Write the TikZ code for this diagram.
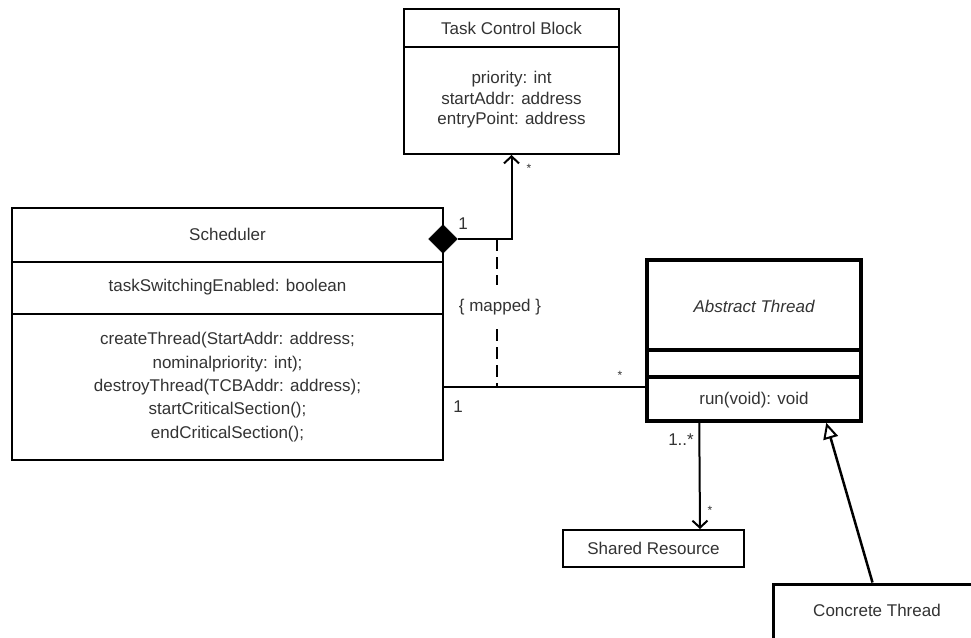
\documentclass[tikz,border=0pt]{standalone}
\usepackage{fontspec}
\setmainfont{Liberation Sans}
\usetikzlibrary{arrows.meta,shapes.geometric,calc}
\definecolor{tc}{HTML}{333333}
\begin{document}
\begin{tikzpicture}[x=1pt,y=-1pt,
  txt/.style={text=tc, inner sep=0pt, font=\fontsize{17}{20}\selectfont},
  smalltxt/.style={text=tc, inner sep=0pt, font=\fontsize{12}{14}\selectfont},
  box/.style={draw, line width=2pt, inner sep=0pt},
  thickbox/.style={draw, line width=3.5pt, inner sep=0pt},
  conn/.style={line width=2pt},
  openarrow/.style={conn, -{Straight Barb[length=7pt,width=15pt,line width=2pt]}},
  genarrow/.style={line width=2.5pt, -{Triangle[open,length=16pt,width=15pt,line width=2pt]}},
  mappedline/.style={line width=2pt, dash pattern=on 12pt off 6pt}]
\useasboundingbox (0,0) rectangle (971,637);
\clip (0,0) rectangle (971,637);
\fill[white] (0,0) rectangle (971,637);

% Task Control Block
\node[box, minimum width=215pt, minimum height=145pt] (tcb) at (511.5,81.5) {};
\draw[line width=2pt] (tcb.west |- 0,47) -- (tcb.east |- 0,47);
\node[txt] (tcbname) at (511.5,28) {Task Control Block};
\node[txt, align=center, font=\fontsize{17}{20.5}\selectfont] (tcbattr) at (511.5,100) {priority: int\\startAddr: address\\entryPoint: address};

% Scheduler
\node[box, minimum width=431pt, minimum height=252pt] (sched) at (227.5,334) {};
\draw[line width=2pt] (sched.west |- 0,262) -- (sched.east |- 0,262);
\draw[line width=2pt] (sched.west |- 0,314) -- (sched.east |- 0,314);
\node[txt] (schedname) at (227.5,234) {Scheduler};
\node[txt] (schedattr) at (227.5,287) {taskSwitchingEnabled: boolean};
\node[txt, align=center, font=\fontsize{17}{23.3}\selectfont] (schedops) at (227.5,387) {createThread(StartAddr: address;\\nominalpriority: int);\\destroyThread(TCBAddr: address);\\startCriticalSection();\\endCriticalSection();};

% Composition diamond and connector
\node[diamond, fill=black, draw, inner sep=0pt, shape aspect=1, minimum size=29pt] (comp) at (443,239) {};
\draw[openarrow] (comp.east) -| (tcb.south);
\node[txt] (m1) at (463,224) {1};
\node[smalltxt] (s1) at (529,168) {*};

% Abstract Thread
\node[thickbox, minimum width=214pt, minimum height=161pt] (ath) at (754,340.5) {};
\draw[line width=3.5pt] (ath.west |- 0,350) -- (ath.east |- 0,350);
\draw[line width=3.5pt] (ath.west |- 0,377) -- (ath.east |- 0,377);
\node[txt, font=\fontsize{17}{20}\itshape] (athname) at (754,306) {Abstract Thread};
\node[txt] (athops) at (754,400) {run(void): void};

% Association Scheduler - Abstract Thread
\coordinate (aL) at (443,387);
\draw[conn] (aL) -- (aL -| ath.west);
\node[txt] (m2) at (458,407) {1};
\node[smalltxt] (s2) at (620,375) {*};

% mapped constraint
\coordinate (d1) at (497,239);
\coordinate (d2) at (497,387);
\node[txt, inner ysep=14pt] (mapped) at (500,307) {\{ mapped \}};
\draw[mappedline] (d1) -- (d1 |- mapped.north);
\draw[mappedline] (d2 |- mapped.south) -- (d2);

% Shared Resource
\node[box, txt, draw=black, line width=2pt, minimum width=181pt, minimum height=37pt] (sr) at (653.5,548.5) {Shared Resource};
\draw[openarrow] ($(ath.south west)+(54,0)$) -- ($(sr.north west)+(138,0)$);
\node[txt] (m3) at (681,440) {1..*};
\node[smalltxt] (s3) at (710,510) {*};

% Concrete Thread (box runs past the picture's right and bottom edges)
\node[draw=black, line width=3pt, inner sep=0pt, minimum width=234pt, minimum height=72pt] (ct) at (890,620) {};
\node[txt] (ctname) at (877,610) {Concrete Thread};
\draw[genarrow] ($(ct.north west)+(101,0)$) -- ($(ath.south west)+(181,0)$);
\end{tikzpicture}
\end{document}
